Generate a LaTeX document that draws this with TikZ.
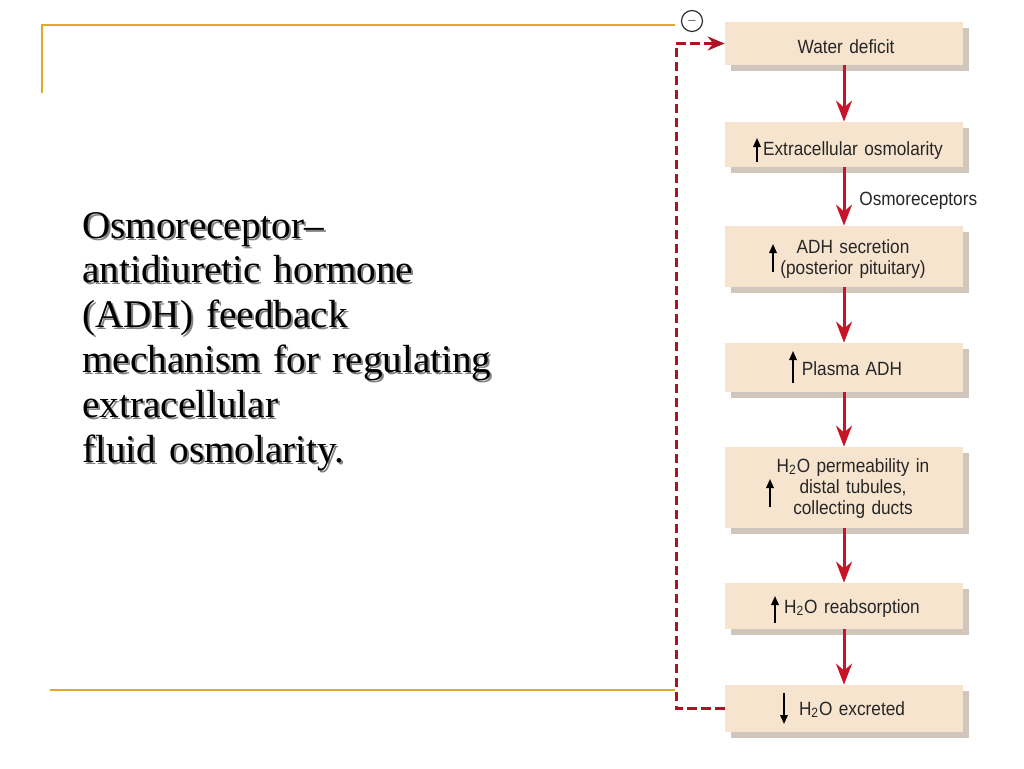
\documentclass[tikz,border=0pt]{standalone}
\usepackage{fontspec}
\setmainfont{Liberation Serif}
\newfontfamily\diagfont[FakeStretch=0.9]{Liberation Sans}
\usetikzlibrary{arrows.meta,shadows}
\definecolor{goldline}{RGB}{222,170,40}
\definecolor{boxfill}{RGB}{247,228,207}
\definecolor{boxshade}{RGB}{208,198,188}
\definecolor{flowred}{RGB}{200,20,40}
\definecolor{fbred}{RGB}{170,20,35}
\definecolor{txtshadow}{RGB}{130,130,130}
\begin{document}
\begin{tikzpicture}[x=0.02cm,y=-0.02cm,
  flowbox/.style={draw=none, fill=boxfill, minimum width=4.76cm, inner sep=0pt,
    drop shadow={shadow xshift=0.12cm, shadow yshift=-0.12cm, fill=boxshade, opacity=1}},
  boxtext/.style={font=\diagfont\fontsize{10.9}{11.95}\selectfont, text width=4.4cm, align=center, inner sep=0pt, anchor=base, text=black!85},
  flow/.style={draw=flowred, line width=1.7pt, -{Stealth[length=0.42cm,width=0.32cm]}},
  feedback/.style={draw=fbred, line width=1.7pt, dash pattern=on 0.19cm off 0.09cm, -{Stealth[length=0.34cm,width=0.28cm]}},
  updown/.style={draw=black, line width=0.95pt, -{Triangle[length=0.18cm,width=0.15cm]}},
  gold/.style={draw=goldline, line width=1.2pt},
  titletext/.style={font=\fontsize{22.3}{25.6}\selectfont, text width=10cm, align=left, inner sep=0pt, anchor=base west}]
\useasboundingbox (0,0) rectangle (1024,768);

% gold frame lines
\draw[gold] (42,93) -- (42,25) -- (675,25);
\draw[gold] (50,690) -- (675,690);

% title text with shadow
\node[titletext, text=txtshadow] (titleshadow) at (84,240) {Osmoreceptor--\\antidiuretic hormone\\(ADH) feedback\\mechanism for regulating\\extracellular\\fluid osmolarity.};
\node[titletext, text=black] (title) at (82,238) {Osmoreceptor--\\antidiuretic hormone\\(ADH) feedback\\mechanism for regulating\\extracellular\\fluid osmolarity.};

% boxes
\node[flowbox, minimum height=0.86cm] (b1) at (844,43.5) {};
\node[flowbox, minimum height=0.90cm] (b2) at (844,144.5) {};
\node[flowbox, minimum height=1.22cm] (b3) at (844,256.5) {};
\node[flowbox, minimum height=0.98cm] (b4) at (844,367.5) {};
\node[flowbox, minimum height=1.62cm] (b5) at (844,487.5) {};
\node[flowbox, minimum height=0.92cm] (b6) at (844,606) {};
\node[flowbox, minimum height=0.94cm] (b7) at (844,708.5) {};

% box texts
\node[boxtext] (t1) at (846,53) {Water deficit};
\node[boxtext] (t2) at (853,155) {Extracellular osmolarity};
\node[boxtext] (t3) at (853,253) {ADH secretion\\(posterior pituitary)};
\node[boxtext] (t4) at (852,375) {Plasma ADH};
\node[boxtext] (t5) at (853,472) {H\textsubscript{2}O permeability in\\distal tubules,\\collecting ducts};
\node[boxtext] (t6) at (852,613) {H\textsubscript{2}O reabsorption};
\node[boxtext] (t7) at (852,715) {H\textsubscript{2}O excreted};

% small up/down arrows
\draw[updown] (757,162) -- (757,138);
\draw[updown] (773,272) -- (773,244);
\draw[updown] (793,383) -- (793,351);
\draw[updown] (770,507) -- (770,479);
\draw[updown] (775,623) -- (775,596);
\draw[updown] (784,693) -- (784,724);

% flow arrows
\draw[flow] (b1.south) -- (b2.north);
\draw[flow] (b2.south) -- (b3.north);
\draw[flow] (b3.south) -- (b4.north);
\draw[flow] (b4.south) -- (b5.north);
\draw[flow] (b5.south) -- (b6.north);
\draw[flow] (b6.south) -- (b7.north);
\node[font=\diagfont\fontsize{10.9}{11.95}\selectfont, anchor=base west, inner sep=0pt, text=black!85] (osmo) at (859,205) {Osmoreceptors};

% feedback loop
\coordinate (fb) at (676,0);
\draw[feedback] (b7.west) -- (b7.west -| fb) -- (b1.west -| fb) -- (b1.west);
\node[circle, draw=black!80, line width=0.7pt, minimum size=0.42cm, inner sep=0pt, fill=white] (minus) at (692,21) {\fontsize{6.5}{6.5}\selectfont$-$};
\end{tikzpicture}
\end{document}
